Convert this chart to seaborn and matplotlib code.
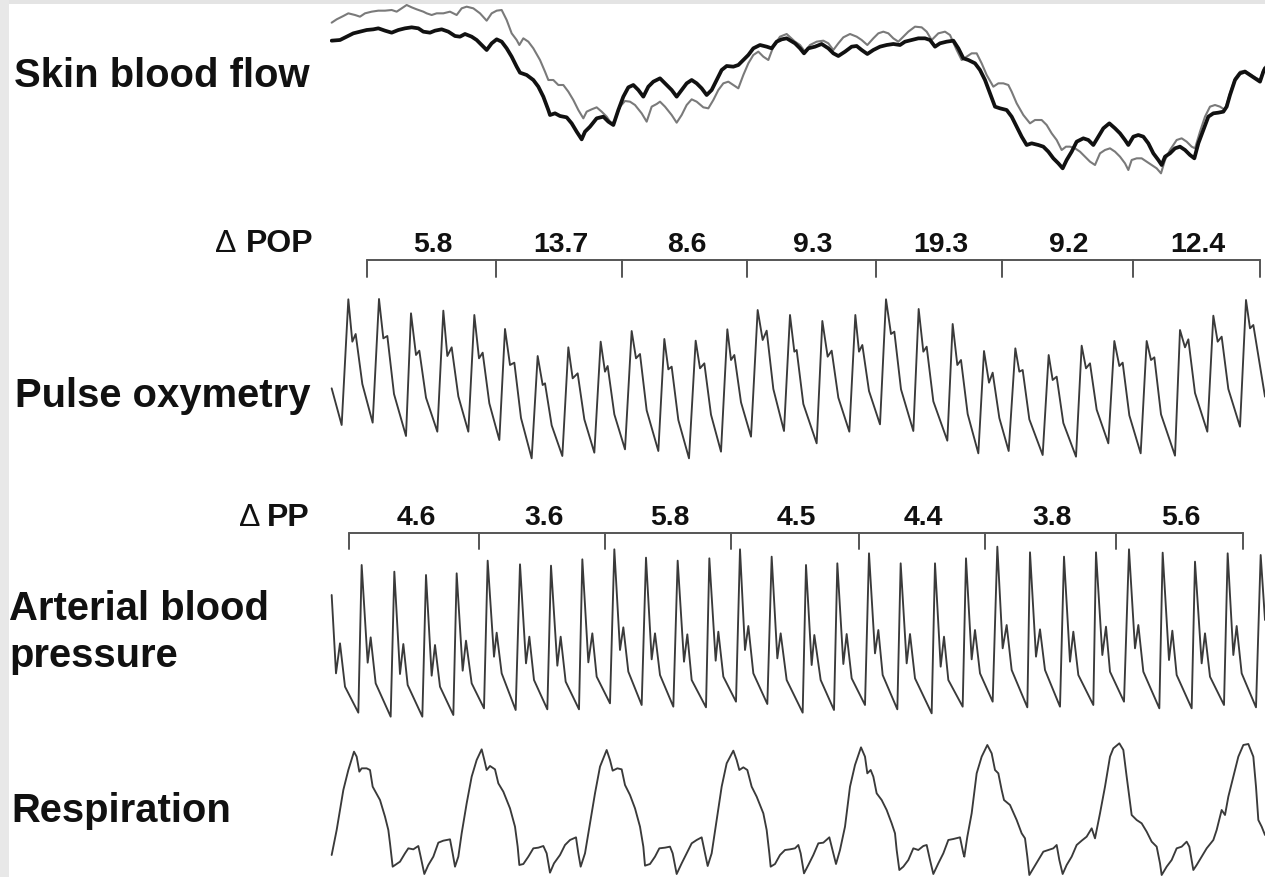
import numpy as np
import pandas as pd
import matplotlib
matplotlib.use("Agg")
import matplotlib.pyplot as plt
from matplotlib.patches import Rectangle
import seaborn as sns

# ---------------- data (time in arbitrary sample units, amplitude in arbitrary units, downward-positive) ----------------
sbf_laser_black = [(5,122),(30,120),(50,110),(70,100),(90,95),(110,90),(130,88),(145,85),(165,92),(185,98),(205,90),(225,85),(245,82),(265,85),(280,95),(300,98),(315,92),(335,88),(355,95),(375,108),(390,110),(405,102),(425,110),(440,120),(455,135),(470,150),(485,130),(500,118),(515,125),(530,145),(545,170),(560,200),(570,218),(590,225),(610,240),(625,260),(640,290),(655,330),(660,345),(675,340),(690,348),(710,352),(725,370),(740,395),(755,418),(765,395),(780,380),(800,355),(820,350),(835,365),(850,375),(865,330),(880,290),(895,262),(910,255),(925,270),(940,290),(955,260),(970,245),(990,235),(1005,250),(1025,270),(1040,290),(1055,270),(1070,250),(1085,240),(1100,250),(1115,265),(1130,285),(1145,270),(1160,240),(1175,210),(1190,198),(1210,200),(1225,195),(1240,180),(1255,165),(1270,145),(1290,135),(1310,140),(1325,145),(1340,125),(1355,118),(1370,115),(1395,130),(1410,145),(1422,160),(1435,145),(1455,140),(1475,132),(1495,145),(1510,160),(1525,168),(1545,155),(1565,140),(1580,138),(1595,150),(1612,162),(1630,150),(1650,140),(1670,135),(1690,132),(1710,135),(1725,125),(1745,120),(1765,115),(1785,115),(1800,120),(1815,140),(1830,130),(1850,125),(1870,122),(1885,145),(1900,175),(1915,180),(1935,190),(1950,210),(1965,240),(1980,280),(1995,320),(2010,325),(2030,330),(2045,350),(2060,380),(2075,410),(2090,435),(2105,430),(2125,435),(2140,440),(2155,455),(2170,475),(2185,490),(2198,505),(2210,480),(2225,455),(2240,425),(2260,415),(2275,420),(2290,435),(2305,410),(2320,385),(2338,370),(2355,385),(2370,400),(2385,420),(2395,435),(2410,410),(2425,405),(2440,410),(2455,430),(2470,460),(2485,480),(2495,495),(2505,470),(2520,460),(2535,445),(2550,440),(2565,450),(2580,465),(2593,475),(2605,430),(2620,390),(2635,350),(2650,340),(2665,338),(2680,335),(2690,320),(2700,285),(2715,240),(2730,220),(2745,215),(2760,225),(2775,235),(2790,245),(2800,215),(2805,205)]

sbf_laser_gray = [(5,68),(20,58),(40,48),(55,40),(75,45),(90,50),(105,40),(125,35),(145,32),(165,32),(185,30),(200,35),(215,25),(230,15),(245,22),(260,28),(280,35),(290,40),(305,45),(320,40),(340,40),(360,35),(380,45),(395,25),(410,20),(430,25),(450,40),(470,62),(485,40),(500,32),(515,30),(530,60),(545,100),(560,120),(568,135),(580,115),(595,125),(610,145),(630,180),(645,215),(655,240),(670,240),(685,255),(700,255),(715,275),(730,300),(745,330),(760,355),(770,335),(785,328),(800,322),(815,335),(830,350),(845,372),(855,360),(870,320),(885,303),(900,305),(915,315),(935,340),(950,365),(965,320),(980,312),(990,305),(1005,320),(1025,345),(1040,368),(1055,345),(1070,315),(1085,298),(1100,305),(1120,322),(1135,325),(1150,300),(1165,270),(1180,250),(1195,245),(1210,255),(1225,265),(1240,225),(1255,190),(1270,165),(1285,155),(1300,170),(1315,180),(1330,140),(1350,110),(1370,102),(1395,125),(1410,135),(1425,155),(1440,135),(1460,125),(1480,122),(1495,130),(1510,150),(1525,130),(1540,112),(1560,102),(1580,110),(1595,120),(1612,135),(1630,115),(1645,100),(1660,95),(1675,100),(1690,115),(1705,125),(1720,110),(1735,95),(1755,80),(1775,82),(1790,95),(1805,120),(1825,100),(1845,95),(1860,105),(1880,150),(1895,180),(1910,170),(1925,160),(1940,160),(1955,190),(1970,225),(1990,260),(2005,250),(2020,250),(2035,255),(2045,275),(2060,310),(2080,345),(2100,370),(2115,360),(2135,360),(2150,375),(2165,400),(2180,420),(2195,450),(2208,440),(2220,440),(2235,445),(2250,455),(2265,470),(2280,485),(2295,495),(2310,460),(2325,450),(2340,445),(2355,455),(2370,470),(2385,490),(2395,510),(2405,480),(2420,475),(2435,475),(2450,485),(2465,495),(2480,505),(2493,520),(2505,480),(2520,450),(2540,420),(2555,415),(2570,425),(2585,440),(2595,445),(2610,395),(2625,350),(2640,320),(2655,315),(2670,320),(2685,330),(2700,280),(2715,235),(2730,215),(2745,212),(2760,222),(2775,232),(2790,240),(2800,210),(2805,200)]

pulse_oxymetry = [(5,475),
    (35,585),(55,208),(67,335),(77,312),(97,462),
    (128,578),(147,207),(160,325),(172,318),(192,492),
    (228,618),(243,250),(258,375),(268,362),(288,503),
    (322,605),(340,242),(352,378),(365,352),(385,499),
    (415,605),(433,255),(447,385),(458,368),(478,520),
    (508,630),(525,297),(540,405),(553,398),(573,564),
    (605,685),(623,378),(638,465),(645,460),(665,586),
    (697,678),(715,352),(728,445),(743,430),(763,568),
    (793,668),(812,335),(825,425),(833,408),(853,553),
    (885,658),(905,303),(918,385),(930,372),(950,541),
    (985,663),(1003,327),(1015,418),(1025,410),(1045,570),
    (1077,685),(1097,332),(1110,415),(1123,400),(1143,554),
    (1173,665),(1192,298),(1203,390),(1213,375),(1233,517),
    (1263,620),(1283,240),(1298,330),(1310,302),(1330,477),
    (1362,603),(1380,255),(1393,365),(1400,360),(1420,522),
    (1460,640),(1477,273),(1493,380),(1505,362),(1525,503),
    (1558,605),(1576,255),(1587,365),(1597,345),(1617,483),
    (1650,583),(1668,208),(1683,312),(1693,305),(1713,478),
    (1750,603),(1766,237),(1780,365),(1790,350),(1810,514),
    (1852,632),(1868,282),(1882,405),(1893,390),(1913,552),
    (1945,670),(1962,363),(1977,458),(1988,428),(2008,564),
    (2036,663),(2056,355),(2068,425),(2078,420),(2098,568),
    (2138,675),(2156,375),(2168,450),(2180,440),(2200,579),
    (2238,680),(2255,347),(2268,415),(2280,400),(2300,539),
    (2335,640),(2353,333),(2368,408),(2378,398),(2398,556),
    (2432,670),(2450,333),(2463,390),(2473,382),(2493,553),
    (2535,677),(2550,300),(2565,352),(2575,328),(2595,489),
    (2632,605),(2650,257),(2663,335),(2675,320),(2695,477),
    (2730,590),(2748,210),(2760,295),(2770,285),
    (2805,500)]

arterial_pressure = [(5,225),(18,460),(30,370),(45,500),(85,578),
    (95,135),(113,428),(122,352),(137,490),(182,590),
    (193,155),(210,462),(220,372),(233,495),(277,590),
    (288,165),(305,467),(315,375),(330,500),(370,585),
    (380,160),(398,452),(408,362),(425,490),(462,565),
    (473,122),(492,410),(500,338),(515,460),(557,570),
    (570,133),(588,430),(598,350),(612,480),(652,568),
    (663,137),(682,437),(692,350),(707,485),(747,568),
    (757,118),(775,427),(787,340),(800,470),(840,550),
    (853,88),(870,390),(880,322),(895,455),(935,555),
    (948,113),(965,418),(975,340),(990,465),(1030,560),
    (1043,122),(1062,425),(1072,343),(1085,480),(1128,562),
    (1138,115),(1157,422),(1165,335),(1180,470),(1218,545),
    (1230,88),(1245,390),(1255,318),(1270,460),(1312,552),
    (1325,110),(1342,415),(1352,340),(1370,480),(1418,578),
    (1428,135),(1445,435),(1453,345),(1472,480),(1512,570),
    (1522,130),(1540,432),(1550,342),(1565,475),(1605,555),
    (1617,100),(1635,400),(1645,330),(1658,465),(1702,568),
    (1712,130),(1730,430),(1740,342),(1755,475),(1805,580),
    (1815,130),(1832,440),(1842,350),(1855,480),(1898,560),
    (1908,115),(1925,418),(1935,330),(1950,460),(1988,545),
    (2002,80),(2018,385),(2030,315),(2045,450),(2092,562),
    (2100,97),(2118,410),(2130,328),(2145,450),(2190,560),
    (2202,110),(2220,425),(2230,335),(2245,465),(2290,555),
    (2298,97),(2317,405),(2328,320),(2340,455),(2382,545),
    (2397,88),(2415,385),(2425,315),(2440,455),(2488,565),
    (2498,98),(2517,420),(2527,332),(2540,465),(2585,565),
    (2595,125),(2615,430),(2625,340),(2640,470),(2682,555),
    (2693,100),(2710,405),(2720,318),(2735,460),(2778,562),
    (2792,105),(2805,300)]

respiration = [(5,405),(20,330),(40,210),(55,150),(72,95),(80,110),(88,155),(95,145),(110,145),(120,150),(128,200),(150,240),(165,290),(175,330),(180,370),(188,440),(200,432),(210,425),(225,400),(235,385),(250,388),(265,378),(272,410),(283,462),(295,435),(310,410),(325,368),(340,362),(360,358),(368,400),(375,440),(385,410),(395,340),(410,250),(425,170),(440,120),(455,88),(463,120),(470,150),(480,138),(495,148),(505,190),(520,215),(540,265),(555,320),(563,380),(568,435),(580,432),(595,410),(610,385),(625,383),(640,378),(650,400),(660,458),(672,430),(690,405),(705,375),(720,360),(738,352),(745,400),(752,440),(765,400),(780,310),(795,220),(810,140),(830,90),(840,120),(848,152),(862,145),(875,148),(885,195),(900,225),(915,265),(930,320),(940,380),(945,437),(960,432),(975,410),(988,385),(1005,383),(1020,380),(1028,400),(1040,462),(1055,430),(1070,400),(1085,370),(1100,360),(1115,352),(1125,400),(1133,438),(1145,400),(1160,300),(1175,200),(1190,130),(1210,92),(1220,120),(1228,150),(1240,142),(1252,150),(1265,200),(1280,230),(1300,280),(1310,330),(1318,400),(1322,440),(1335,432),(1350,405),(1365,390),(1380,388),(1395,385),
    (1405,375),(1412,400),(1422,460),(1435,435),(1450,405),(1465,370),(1480,368),(1498,352),(1505,380),(1518,432),(1530,390),(1545,320),(1560,200),(1575,135),(1593,82),(1605,110),(1612,160),(1622,150),(1630,170),(1640,220),(1655,240),(1670,270),(1685,310),(1695,340),(1700,390),(1708,450),(1720,440),(1735,420),(1750,385),(1765,390),(1780,378),(1790,375),(1800,420),(1810,462),(1825,430),(1840,400),(1855,360),(1870,357),(1890,352),(1900,400),(1903,410),(1912,350),(1925,280),(1940,160),(1955,110),(1972,75),(1985,100),(1995,150),(2005,160),(2015,210),(2022,240),(2040,255),(2060,300),(2075,340),(2085,355),(2092,410),(2098,465),(2110,445),(2125,420),(2140,395),(2155,390),(2170,385),(2180,375),(2188,420),(2198,462),(2210,435),(2225,410),(2240,375),(2255,362),(2270,350),(2285,325),(2295,355),(2300,330),(2310,280),(2325,200),(2340,110),(2350,85),(2368,70),(2380,90),(2390,170),(2398,230),(2405,285),(2420,300),(2435,310),(2450,335),(2465,365),(2480,380),(2490,430),(2495,465),(2510,440),(2525,420),(2540,385),(2555,380),(2570,365),(2578,380),(2590,450),(2600,435),(2615,410),(2630,385),(2650,360),(2660,330),(2675,270),(2685,285),(2695,230),(2710,170),(2725,110),(2740,75),(2755,72),(2770,110),(2778,200),(2785,300),(2795,320),(2805,345)]

# respiratory-cycle bracket boundaries and variation values
pop_bounds = [110, 497, 877, 1252, 1637, 2017, 2408, 2790]
pop_values = ["5.8", "13.7", "8.6", "9.3", "19.3", "9.2", "12.4"]
pp_bounds = [58, 447, 825, 1203, 1587, 1965, 2357, 2740]
pp_values = ["4.6", "3.6", "5.8", "4.5", "4.4", "3.8", "5.6"]

labels = ["Skin blood flow", "Pulse oxymetry", "Arterial blood", "pressure", "Respiration"]

# ---------------- figure ----------------
sns.set_theme(style="white")
plt.rcParams['font.family'] = ['Liberation Sans', 'DejaVu Sans']

W, H = 1265, 877
fig = plt.figure(figsize=(W / 100, H / 100), dpi=100)
fig.patch.set_facecolor("white")

# light gray frame of the original image (top and left edges)
fig.patches.append(Rectangle((0, 1 - 4 / H), 1, 4 / H, transform=fig.transFigure,
                             facecolor="#e4e4e4", edgecolor="none", zorder=0))
fig.patches.append(Rectangle((0, 0), 9 / W, 1, transform=fig.transFigure,
                             facecolor="#e8e8e8", edgecolor="none", zorder=0))

TMAX = 2805
X0 = 330


def band(y_top, y_bot, off):
    ax = fig.add_axes([X0 / W, 1 - y_bot / H, (W - X0) / W, (y_bot - y_top) / H])
    ax.set_xlim(0, TMAX)
    ax.set_ylim((y_bot - off) * 3, (y_top - off) * 3)
    ax.axis("off")
    ax.patch.set_alpha(0)
    return ax


def trace(ax, pts, color, lw):
    df = pd.DataFrame(pts, columns=["t", "v"])
    sns.lineplot(data=df, x="t", y="v", sort=False, estimator=None, ax=ax,
                 color=color, linewidth=lw, solid_joinstyle="round")


ax_sbf = band(0, 180, 0)
trace(ax_sbf, sbf_laser_gray, "#7a7a7a", 1.5)
trace(ax_sbf, sbf_laser_black, "#111111", 2.7)

ax_pox = band(225, 470, 230)
trace(ax_pox, pulse_oxymetry, "#3a3a3a", 1.35)

ax_abp = band(490, 722, 520)
trace(ax_abp, arterial_pressure, "#3a3a3a", 1.35)

ax_res = band(730, 877, 720)
trace(ax_res, respiration, "#3a3a3a", 1.35)


def bracket(ax, bounds, values, y_line, y_tick, y_text):
    ax.plot([bounds[0], bounds[-1]], [y_line, y_line], color="#555555", lw=1.4, clip_on=False)
    for b in bounds:
        ax.plot([b, b], [y_line, y_tick], color="#555555", lw=1.4, clip_on=False)
    for a, b, s in zip(bounds[:-1], bounds[1:], values):
        ax.text((a + b) / 2 + 5, y_text, s, ha="center", va="baseline",
                fontsize=20.4, fontweight="bold", color="#111111", clip_on=False)


bracket(ax_pox, pop_bounds, pop_values, 90, 140, 66)
bracket(ax_abp, pp_bounds, pp_values, 38, 88, 15)


def ftext(x, y, s, **kw):
    fig.text(x / W, 1 - y / H, s, va="baseline", color="#111111", **kw)


ftext(14, 87, labels[0], fontsize=28.8, fontweight="bold")
ftext(15, 407, labels[1], fontsize=28.8, fontweight="bold")
ftext(9, 620, labels[2], fontsize=28.8, fontweight="bold")
ftext(9, 667, labels[3], fontsize=28.8, fontweight="bold")
ftext(11, 822, labels[4], fontsize=28.8, fontweight="bold")

ftext(313, 252, "POP", fontsize=23, fontweight="bold", ha="right")
ftext(237, 252, "\u0394", fontsize=23, ha="right")
ftext(310, 526, "PP", fontsize=23, fontweight="bold", ha="right")
ftext(261, 526, "\u0394", fontsize=23, ha="right")

fig.savefig("out.png", dpi=100, facecolor="white")
